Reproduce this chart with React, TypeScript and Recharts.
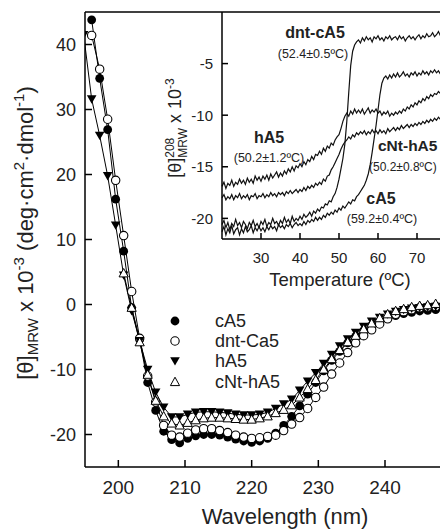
import { LineChart, Line, XAxis, YAxis, ReferenceLine } from 'recharts';

const FONT = '"Liberation Sans", Arial, sans-serif';

// main spectra (wavelength in nm, values x 10^-3)
const wavelengths = [
  194.8, 196, 197.2, 198.4, 199.6, 200.8, 202, 203.2, 204.4, 205.6, 206.8, 208, 209.2, 210.4, 211.6,
  212.8, 214, 215.2, 216.4, 217.6, 218.8, 220, 221.2, 222.4, 223.6, 224.8, 226, 227.2, 228.4, 229.6,
  230.8, 232, 233.2, 234.4, 235.6, 236.8, 238, 239.2, 240.4, 241.6, 242.8, 244, 245.2, 246.4, 247.6,
];
const cA5 = [
  null, 43.8, 34.8, 26.9, 16.2, 8.2, -0.5, -5.4, -12.0, -16.3, -19.5, -20.8, -21.3, -20.6, -20.2,
  -20.0, -20.0, -20.1, -20.4, -20.7, -21.0, -21.2, -21.0, -20.6, -19.8, -18.6, -17.2, -15.6, -13.8, -12.0,
  -10.2, -8.6, -7.2, -5.9, -4.9, -4.0, -3.2, -2.6, -2.1, -1.7, -1.4, -1.2, -1.0, -0.9, -0.8,
];
const dntCa5 = [
  null, 41.4, 36.2, 28.5, 19.1, 10.6, 2.0, -5.2, -11.0, -15.0, -18.6, -20.1, -20.4, -19.8, -19.3,
  -19.1, -19.1, -19.4, -19.7, -20.1, -20.4, -20.6, -20.5, -20.3, -20.1, -19.4, -18.4, -17.4, -16.0, -14.3,
  -12.7, -10.7, -9.0, -7.4, -5.9, -4.8, -3.9, -3.0, -2.2, -1.5, -1.1, -0.8, -0.5, -0.4, -0.3,
];
const hA5 = [
  41.5, 31.6, 26.0, 19.8, 12.2, 4.5, -1.0, -5.6, -10.0, -13.5, -15.8, -17.3, -17.3, -16.9, -16.6,
  -16.5, -16.5, -16.6, -16.7, -16.9, -17.0, -17.0, -16.9, -16.6, -16.0, -15.3, -14.6, -13.2, -11.8, -10.5,
  -9.1, -7.7, -6.4, -5.3, -4.3, -3.4, -2.6, -2.0, -1.5, -1.1, -0.8, -0.6, -0.5, -0.4, -0.3,
];
const cNtHA5 = [
  null, null, null, null, null, 4.8, -0.5, -5.8, -10.8, -14.8, -17.2, -18.3, -18.6, -18.2, -17.8,
  -17.5, -17.4, -17.4, -17.5, -17.6, -17.7, -17.7, -17.5, -17.2, -16.7, -16.2, -15.5, -14.3, -13.0, -11.6,
  -10.0, -8.4, -7.0, -5.8, -4.8, -3.8, -2.9, -2.1, -1.5, -1.0, -0.7, -0.4, -0.2, -0.1, 0.1,
];

// inset: thermal melts at 208 nm
const temps = [
  20, 20.5, 21, 21.5, 22, 22.5, 23, 23.5, 24, 24.5, 25, 25.5, 26, 26.5, 27, 27.5, 28, 28.5, 29, 29.5,
  30, 30.5, 31, 31.5, 32, 32.5, 33, 33.5, 34, 34.5, 35, 35.5, 36, 36.5, 37, 37.5, 38, 38.5, 39, 39.5,
  40, 40.5, 41, 41.5, 42, 42.5, 43, 43.5, 44, 44.5, 45, 45.5, 46, 46.5, 47, 47.5, 48, 48.5, 49, 49.5,
  50, 50.5, 51, 51.5, 52, 52.5, 53, 53.5, 54, 54.5, 55, 55.5, 56, 56.5, 57, 57.5, 58, 58.5, 59, 59.5,
  60, 60.5, 61, 61.5, 62, 62.5, 63, 63.5, 64, 64.5, 65, 65.5, 66, 66.5, 67, 67.5, 68, 68.5, 69, 69.5,
  70, 70.5, 71, 71.5, 72, 72.5, 73, 73.5, 74, 74.5, 75, 75.5, 76, 76.5, 77,
];
const meltDntCA5 = [
  -20.6, -20.2, -20.9, -20.4, -21.1, -20.5, -20.8, -20.1, -20.7, -20.4,
  -20.9, -20.3, -20.6, -21.0, -20.4, -20.7, -20.2, -20.8, -20.5, -20.9,
  -20.3, -20.6, -20.1, -20.8, -20.4, -20.6, -20.0, -20.5, -20.3, -20.7,
  -20.2, -20.5, -19.9, -20.4, -20.1, -20.5, -19.8, -20.3, -20.0, -20.2,
  -19.8, -20.1, -19.6, -19.9, -19.7, -19.4, -19.8, -19.3, -19.5, -19.1,
  -19.3, -18.9, -19.0, -18.6, -18.7, -18.3, -18.4, -17.9, -17.6, -17.0,
  -16.2, -15.2, -14.2, -12.8, -10.6, -7.8, -5.2, -3.8, -3.2, -2.9,
  -2.7, -3.0, -2.5, -2.8, -2.4, -2.7, -2.5, -2.9, -2.4, -2.6,
  -2.3, -2.7, -2.5, -2.8, -2.4, -2.6, -2.3, -2.7, -2.5, -2.4,
  -2.7, -2.3, -2.6, -2.4, -2.8, -2.5, -2.3, -2.6, -2.4, -2.7,
  -2.4, -2.2, -2.6, -2.3, -2.5, -2.1, -2.4, -2.3, -2.0, -2.4,
  -2.2, -1.9, -2.3, -1.8, -2.0,
];
const meltCA5 = [
  -21.3, -20.8, -21.6, -21.0, -21.4, -20.7, -21.5, -21.1, -20.9, -21.6,
  -21.0, -21.4, -20.8, -21.3, -21.1, -20.7, -21.4, -20.9, -21.2, -20.8,
  -21.2, -20.9, -21.3, -20.8, -21.1, -20.7, -21.0, -20.8, -21.2, -20.6,
  -20.9, -20.7, -21.0, -20.6, -20.8, -20.5, -20.9, -20.6, -20.4, -20.7,
  -20.5, -20.7, -20.3, -20.6, -20.2, -20.4, -20.1, -20.3, -19.9, -20.2,
  -19.9, -20.1, -19.7, -19.9, -19.5, -19.7, -19.4, -19.6, -19.2, -19.4,
  -19.0, -19.2, -18.8, -19.0, -18.7, -18.4, -18.6, -18.2, -18.3, -17.9,
  -17.7, -17.4, -17.1, -16.8, -16.3, -15.7, -14.8, -13.6, -12.3, -11.0,
  -9.5, -8.0, -6.9, -6.4, -6.2, -6.5, -6.1, -6.4, -6.0, -6.3,
  -5.9, -6.3, -6.1, -5.8, -6.2, -6.0, -6.3, -5.9, -6.1, -5.8,
  -6.2, -5.9, -6.1, -5.7, -6.0, -5.8, -6.1, -5.7, -5.9, -5.6,
  -5.9, -5.7, -6.0, -5.6, -5.8,
];
const meltHA5 = [
  -16.9, -16.5, -17.1, -16.6, -16.8, -16.3, -16.9, -16.5, -16.7, -16.2,
  -16.6, -16.3, -16.7, -16.1, -16.5, -16.2, -16.6, -15.9, -16.3, -16.0,
  -16.4, -15.9, -16.2, -15.8, -16.3, -15.7, -16.1, -15.8, -15.5, -16.0,
  -15.6, -15.9, -15.4, -15.7, -15.2, -15.5, -15.0, -15.4, -14.9, -15.1,
  -14.7, -15.0, -14.5, -14.8, -14.3, -14.5, -14.0, -14.3, -13.8, -13.9,
  -13.5, -13.8, -13.2, -13.5, -13.0, -13.2, -12.7, -12.9, -12.4, -12.1,
  -11.9, -11.3, -10.6, -10.1, -9.8, -10.1, -9.6, -9.9, -9.4, -9.8,
  -9.5, -9.8, -9.4, -9.9, -9.6, -9.3, -9.8, -9.5, -9.7, -9.4,
  -9.8, -9.6, -10.0, -9.7, -9.9, -9.6, -10.1, -9.8, -10.0, -9.7,
  -9.9, -9.6, -9.8, -9.4, -9.6, -9.2, -9.4, -9.0, -9.2, -8.8,
  -9.0, -8.6, -8.8, -8.4, -8.6, -8.2, -8.4, -8.0, -8.2, -7.9,
  -8.0, -7.7, -7.9, -7.5, -7.7,
];
const meltCNtHA5 = [
  -18.0, -17.7, -18.2, -17.9, -18.1, -17.7, -18.2, -17.8, -18.0, -17.6,
  -18.1, -17.8, -18.0, -17.7, -18.2, -17.8, -17.9, -17.6, -18.1, -17.8,
  -17.9, -17.6, -18.0, -17.7, -17.9, -17.5, -17.8, -17.6, -17.9, -17.5,
  -17.7, -17.5, -17.8, -17.4, -17.6, -17.3, -17.6, -17.4, -17.2, -17.5,
  -17.2, -17.4, -17.0, -17.3, -16.9, -17.1, -16.8, -17.0, -16.6, -16.8,
  -16.5, -16.7, -16.2, -16.4, -15.9, -15.8, -15.3, -15.0, -14.6, -14.2,
  -13.8, -13.3, -12.9, -12.6, -12.4, -12.1, -12.3, -11.9, -12.1, -11.7,
  -11.9, -11.6, -11.8, -11.5, -11.9, -11.6, -11.8, -11.4, -11.7, -11.5,
  -11.8, -11.4, -11.7, -11.5, -11.8, -11.3, -11.6, -11.4, -11.2, -11.5,
  -11.2, -11.4, -11.0, -11.3, -11.1, -10.9, -11.2, -10.9, -11.1, -10.8,
  -11.0, -10.7, -10.9, -10.6, -10.8, -10.5, -10.7, -10.4, -10.6, -10.3,
  -10.5, -10.2, -10.4, -10.1, -10.3,
];

const mainData = wavelengths.map((w, i) => ({
  w,
  cA5: cA5[i],
  dnt: dntCa5[i],
  hA5: hA5[i],
  cnt: cNtHA5[i],
}));

const insetData = temps.map((t, i) => ({
  t,
  dnt: meltDntCA5[i],
  cA5: meltCA5[i],
  hA5: meltHA5[i],
  cnt: meltCNtHA5[i],
}));

// marker shapes
const filledCircle = (p: any) =>
  p.cy == null ? <g key={p.key} /> : <circle key={p.key} cx={p.cx} cy={p.cy} r={4.4} fill="#000" />;
const openCircle = (p: any) =>
  p.cy == null ? (
    <g key={p.key} />
  ) : (
    <circle key={p.key} cx={p.cx} cy={p.cy} r={4.2} fill="#fff" stroke="#000" strokeWidth={1.1} />
  );
const triDown = (p: any) =>
  p.cy == null ? (
    <g key={p.key} />
  ) : (
    <path key={p.key} d={`M${p.cx - 4.8},${p.cy - 3.8}L${p.cx + 4.8},${p.cy - 3.8}L${p.cx},${p.cy + 4.6}Z`} fill="#000" />
  );
const triUp = (p: any) =>
  p.cy == null ? (
    <g key={p.key} />
  ) : (
    <path
      key={p.key}
      d={`M${p.cx},${p.cy - 4.8}L${p.cx + 4.6},${p.cy + 3.6}L${p.cx - 4.6},${p.cy + 3.6}Z`}
      fill="#fff"
      stroke="#000"
      strokeWidth={1}
    />
  );

const axisStroke = { stroke: '#000', strokeWidth: 1.5 };

export default function App() {
  return (
    <div
      style={{
        position: 'absolute',
        left: 0,
        top: 0,
        width: 440,
        height: 530,
        overflow: 'hidden',
        background: '#fff',
        fontFamily: FONT,
      }}
    >
      <div style={{ position: 'absolute', left: 0, top: 0 }}>
        <LineChart width={500} height={530} data={mainData} margin={{ top: 12, right: 15, left: 0, bottom: 0 }}>
          <XAxis
            dataKey="w"
            type="number"
            domain={[195, 255]}
            ticks={[200, 210, 220, 230, 240]}
            allowDataOverflow
            height={63}
            tickSize={-7}
            tickMargin={21}
            axisLine={axisStroke}
            tickLine={axisStroke}
            tick={{ fill: '#222', fontSize: 19, fontFamily: FONT }}
          />
          <YAxis
            type="number"
            domain={[-25, 45]}
            ticks={[-20, -10, 0, 10, 20, 30, 40]}
            allowDataOverflow
            width={85}
            tickSize={-7}
            tickMargin={16}
            axisLine={axisStroke}
            tickLine={axisStroke}
            tick={{ fill: '#222', fontSize: 18, fontFamily: FONT }}
          />
          <ReferenceLine y={45} stroke="#000" strokeWidth={1.5} />
          <Line dataKey="cA5" stroke="#000" strokeWidth={1} dot={filledCircle} isAnimationActive={false} />
          <Line dataKey="dnt" stroke="#000" strokeWidth={1} dot={openCircle} isAnimationActive={false} />
          <Line dataKey="hA5" stroke="#000" strokeWidth={1} dot={triDown} isAnimationActive={false} />
          <Line dataKey="cnt" stroke="#000" strokeWidth={1} dot={triUp} isAnimationActive={false} />
        </LineChart>
      </div>

      <div style={{ position: 'absolute', left: 0, top: 0 }}>
        <LineChart width={470} height={300} data={insetData} margin={{ top: 12, right: 14, left: 0, bottom: 0 }}>
          <XAxis
            dataKey="t"
            type="number"
            domain={[20, 80]}
            ticks={[30, 40, 50, 60, 70]}
            height={61}
            tickSize={-6}
            tickMargin={19}
            axisLine={axisStroke}
            tickLine={axisStroke}
            tick={{ fill: '#222', fontSize: 15, fontFamily: FONT }}
          />
          <YAxis
            type="number"
            domain={[-22, 0]}
            ticks={[-20, -15, -10, -5]}
            width={222}
            tickSize={-6}
            tickMargin={15}
            axisLine={axisStroke}
            tickLine={axisStroke}
            tick={{ fill: '#222', fontSize: 15, fontFamily: FONT }}
          />
          <Line dataKey="dnt" stroke="#111" strokeWidth={1.2} dot={false} isAnimationActive={false} />
          <Line dataKey="cA5" stroke="#111" strokeWidth={1.2} dot={false} isAnimationActive={false} />
          <Line dataKey="hA5" stroke="#111" strokeWidth={1.2} dot={false} isAnimationActive={false} />
          <Line dataKey="cnt" stroke="#111" strokeWidth={1.2} dot={false} isAnimationActive={false} />
        </LineChart>
      </div>

      <svg width={440} height={530} style={{ position: 'absolute', left: 0, top: 0 }} fontFamily={FONT} fill="#222">
        {/* main axis titles */}
        <text transform="rotate(-90 33 233)" x={33} y={233} textAnchor="middle" fontSize={22}>
          [θ]
          <tspan dy={5} fontSize={15}>MRW</tspan>
          <tspan dy={-5}>{' x 10'}</tspan>
          <tspan dy={-9} fontSize={15}>-3</tspan>
          <tspan dy={9}>{' (deg·cm'}</tspan>
          <tspan dy={-9} fontSize={15}>2</tspan>
          <tspan dy={9}>·dmol</tspan>
          <tspan dy={-9} fontSize={15}>-1</tspan>
          <tspan dy={9}>)</tspan>
        </text>
        <text x={285} y={524} textAnchor="middle" fontSize={22}>
          Wavelength (nm)
        </text>

        {/* inset axis titles */}
        <text transform="rotate(-90 181 128)" x={181} y={128} textAnchor="middle" fontSize={18}>
          [θ]
          <tspan dy={-7} fontSize={12}>208</tspan>
          <tspan dx={-20} dy={13} fontSize={12}>MRW</tspan>
          <tspan dy={-6}>{' x 10'}</tspan>
          <tspan dy={-7} fontSize={12}>-3</tspan>
        </text>
        <text x={340} y={286} textAnchor="middle" fontSize={18.5}>
          Temperature (ºC)
        </text>

        {/* inset annotations */}
        <text x={315} y={38} textAnchor="middle" fontSize={16} fontWeight="bold">dnt-cA5</text>
        <text x={313} y={58} textAnchor="middle" fontSize={12.5}>(52.4±0.5ºC)</text>
        <text x={269} y={143} textAnchor="middle" fontSize={16} fontWeight="bold">hA5</text>
        <text x={269} y={162} textAnchor="middle" fontSize={12.5}>(50.2±1.2ºC)</text>
        <text x={378} y={151} fontSize={15.5} fontWeight="bold">cNt-hA5</text>
        <text x={369} y={171} fontSize={12}>(50.2±0.8ºC)</text>
        <text x={381} y={204} textAnchor="middle" fontSize={16} fontWeight="bold">cA5</text>
        <text x={382} y={223} textAnchor="middle" fontSize={12.5}>(59.2±0.4ºC)</text>

        {/* legend */}
        <circle cx={175} cy={321} r={4.4} fill="#000" />
        <circle cx={175} cy={341} r={4.2} fill="#fff" stroke="#000" strokeWidth={1.1} />
        <path d="M170.2,357.2L179.8,357.2L175,365.6Z" fill="#000" />
        <path d="M175,377.2L179.6,385.6L170.4,385.6Z" fill="#fff" stroke="#000" strokeWidth={1} />
        <text x={215} y={327} fontSize={18}>cA5</text>
        <text x={215} y={347} fontSize={18}>dnt-Ca5</text>
        <text x={215} y={367} fontSize={18}>hA5</text>
        <text x={215} y={388} fontSize={18}>cNt-hA5</text>
      </svg>
    </div>
  );
}
